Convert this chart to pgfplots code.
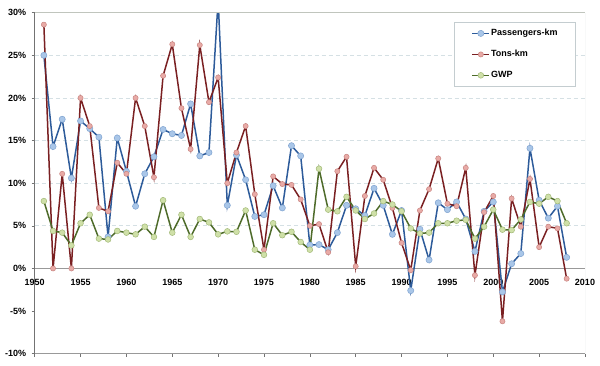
\documentclass[border=0pt]{standalone}
\usepackage{pgfplots}
\pgfplotsset{compat=1.18}
\usepackage{fontspec}
\setmainfont{Liberation Sans}
\definecolor{bline}{HTML}{2D5B9A}
\definecolor{bfill}{HTML}{A9C6E8}
\definecolor{bedge}{HTML}{7FA3D0}
\definecolor{rline}{HTML}{7A2022}
\definecolor{rfill}{HTML}{E8AAA6}
\definecolor{redge}{HTML}{C88480}
\definecolor{gline}{HTML}{4E6B2A}
\definecolor{gfill}{HTML}{CFE0A8}
\definecolor{gedge}{HTML}{A2B978}
\definecolor{gridc}{HTML}{D5E0E4}
\begin{document}
\begin{tikzpicture}[x=1pt,y=1pt]
\useasboundingbox (0,0) rectangle (600,366);
\begin{axis}[
  at={(34.7pt,12.3pt)}, anchor=south west,
  scale only axis, width=550.3pt, height=341pt,
  xmin=1950, xmax=2010, ymin=-10, ymax=30,
  axis x line=middle, axis y line=left,
  axis line style={-},
  x axis line style={draw=gray!80, line width=0.8pt},
  y axis line style={draw=gray!90!black, line width=0.8pt},
  hide obscured x ticks=false,
  xtick={1950,1955,...,2010},
  ytick={-10,-5,...,30},
  tick align=outside,
  major tick length=3pt,
  tick style={draw=gray!90!black, line width=0.6pt},
  xtick pos=left, ytick pos=left,
  /pgf/number format/assume math mode=true,
  xticklabel style={/pgf/number format/1000 sep={}, font=\fontsize{9}{10}\selectfont\bfseries, yshift=-4pt},
  yticklabel={\pgfmathprintnumber{\tick}\%},
  yticklabel style={font=\fontsize{9}{10}\selectfont\bfseries, xshift=-2pt},
  legend cell align=left,
  legend image code/.code={\draw[#1, mark repeat=2, mark phase=2] plot coordinates {(0pt,0pt) (8.5pt,0pt) (17pt,0pt)};},
  legend style={at={(0.9837,0.9727)}, anchor=north east, draw=gridc!80!gray, line width=0.8pt,
    font=\fontsize{9}{10}\selectfont\bfseries, inner xsep=17pt, inner ysep=6pt, row sep=11pt,
    nodes={inner xsep=1pt, inner ysep=1pt}},
]
\draw[gridc, dashed, dash pattern=on 4pt off 3pt, line width=0.8pt] (axis cs:1950,5) -- (axis cs:2010,5);
\draw[gridc, dashed, dash pattern=on 4pt off 3pt, line width=0.8pt] (axis cs:1950,10) -- (axis cs:2010,10);
\draw[gridc, dashed, dash pattern=on 4pt off 3pt, line width=0.8pt] (axis cs:1950,15) -- (axis cs:2010,15);
\draw[gridc, dashed, dash pattern=on 4pt off 3pt, line width=0.8pt] (axis cs:1950,20) -- (axis cs:2010,20);
\draw[gridc, dashed, dash pattern=on 4pt off 3pt, line width=0.8pt] (axis cs:1950,25) -- (axis cs:2010,25);
\addplot[bline, line width=1.5pt, mark=*, mark size=3.1pt, mark options={fill=bfill, draw=bedge, line width=0.5pt}] coordinates {
(1951,25.0) (1952,14.3) (1953,17.5) (1954,10.6) (1955,17.3) (1956,16.4) (1957,15.4) (1958,3.7) (1959,15.3) (1960,11.4)
(1961,7.3) (1962,11.1) (1963,13.1) (1964,16.3) (1965,15.8) (1966,15.6) (1967,19.3) (1968,13.2) (1969,13.6) (1970,31.5)
(1971,7.4) (1972,13.3) (1973,10.4) (1974,6.1) (1975,6.3) (1976,9.7) (1977,7.1) (1978,14.4) (1979,13.2) (1980,2.75)
(1981,2.8) (1982,2.2) (1983,4.2) (1984,7.4) (1985,7.0) (1986,6.2) (1987,9.4) (1988,7.4) (1989,4.0) (1990,6.8)
(1991,-2.6) (1992,4.6) (1993,1.0) (1994,7.7) (1995,6.9) (1996,7.8) (1997,5.8) (1998,2.0) (1999,6.7) (2000,7.8)
(2001,-2.75) (2002,0.55) (2003,1.75) (2004,14.1) (2005,8.0) (2006,5.9) (2007,7.3) (2008,1.3)
};
\addlegendentry{Passengers-km}
\addplot[rline, line width=1.5pt, mark=*, mark size=2.6pt, mark options={fill=rfill, draw=redge, line width=0.5pt}] coordinates {
(1951,28.6) (1952,0.0) (1953,11.1) (1954,0.0) (1955,20.0) (1956,16.7) (1957,7.1) (1958,6.7) (1959,12.4) (1960,11.1)
(1961,20.0) (1962,16.7) (1963,10.7) (1964,22.6) (1965,26.3) (1966,18.8) (1967,14.0) (1968,26.2) (1969,19.5) (1970,22.4)
(1971,10.0) (1972,13.6) (1973,16.7) (1974,8.7) (1975,2.2) (1976,10.8) (1977,9.9) (1978,9.8) (1979,8.1) (1980,5.0)
(1981,5.2) (1982,1.9) (1983,11.4) (1984,13.1) (1985,0.25) (1986,8.5) (1987,11.8) (1988,10.4) (1989,7.1) (1990,3.0)
(1991,-0.2) (1992,6.8) (1993,9.3) (1994,12.9) (1995,7.6) (1996,7.3) (1997,11.8) (1998,-0.8) (1999,6.6) (2000,8.5)
(2001,-6.2) (2002,8.2) (2003,4.9) (2004,10.5) (2005,2.5) (2006,4.9) (2007,4.7) (2008,-1.2)
};
\addlegendentry{Tons-km}
\addplot[gline, line width=1.5pt, mark=*, mark size=2.9pt, mark options={fill=gfill, draw=gedge, line width=0.5pt}] coordinates {
(1951,7.9) (1952,4.4) (1953,4.2) (1954,2.7) (1955,5.3) (1956,6.3) (1957,3.5) (1958,3.4) (1959,4.4) (1960,4.2)
(1961,4.0) (1962,4.9) (1963,3.7) (1964,8.0) (1965,4.2) (1966,6.3) (1967,3.7) (1968,5.8) (1969,5.4) (1970,4.0)
(1971,4.35) (1972,4.3) (1973,6.8) (1974,2.2) (1975,1.6) (1976,5.3) (1977,3.9) (1978,4.3) (1979,3.1) (1980,2.2)
(1981,11.7) (1982,6.9) (1983,6.7) (1984,8.4) (1985,6.8) (1986,5.8) (1987,6.45) (1988,7.9) (1989,7.5) (1990,6.7)
(1991,4.7) (1992,4.1) (1993,4.2) (1994,5.3) (1995,5.3) (1996,5.6) (1997,5.7) (1998,3.5) (1999,4.9) (2000,6.9)
(2001,4.55) (2002,4.5) (2003,5.75) (2004,7.8) (2005,7.6) (2006,8.4) (2007,7.9) (2008,5.3)
};
\addlegendentry{GWP}
\draw[color={rgb,255:red,192;green,197;blue,189}, line width=1.6pt] (rel axis cs:0,1) -- (rel axis cs:1,1);
\draw[color={rgb,255:red,200;green,205;blue,208}, line width=1pt] (rel axis cs:1,1) -- (rel axis cs:1,0);
\draw[gray!80, line width=0.8pt] (rel axis cs:0,0) -- (rel axis cs:1,0);
\end{axis}
\end{tikzpicture}
\end{document}
